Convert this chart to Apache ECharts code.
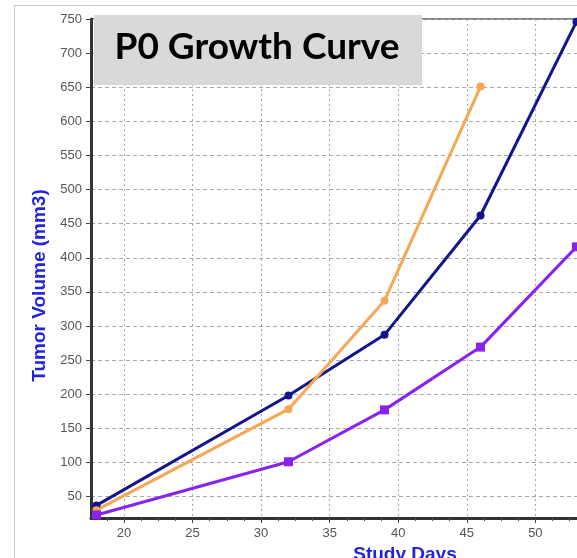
<!DOCTYPE html>
<html>
<head>
<meta charset="utf-8">
<script src="https://cdn.jsdelivr.net/npm/echarts@6/dist/echarts.min.js"></script>
<style>html,body{margin:0;padding:0;background:#fff;}#c{width:577px;height:558px;}</style>
</head>
<body>
<div id="c"></div>
<script>
var titleText = 'P0 Growth Curve';
var xTickValues = [20, 25, 30, 35, 40, 45, 50, 55, 60];
var yTickValues = [50, 100, 150, 200, 250, 300, 350, 400, 450, 500, 550, 600, 650, 700, 750];
var seriesBlue = [[18, 37], [32, 198], [39, 287], [46, 462], [53, 746]];
var seriesOrange = [[18, 30], [32, 178], [39, 337], [46, 651]];
var seriesPurple = [[18, 23], [32, 101], [39, 177], [46, 269], [53, 416]];

var minorX = [];
for (var i = 0; i < xTickValues.length; i++) {
  var b = xTickValues[i] - 5;
  for (var k = 1; k < 4; k++) minorX.push(b + k * 1.25);
}
minorX.push(60 + 1.25, 60 + 2.5);

var chart = echarts.init(document.getElementById('c'), null, {renderer: 'canvas'});
var labelStyle = {color: '#555', fontFamily: 'Liberation Sans, Arial, sans-serif', fontSize: 13};
var nameStyle = {color: '#2323dc', fontFamily: 'Liberation Sans, Arial, sans-serif', fontSize: 19, fontWeight: 'bold'};

chart.setOption({
  animation: false,
  backgroundColor: '#fff',
  title: {
    text: titleText,
    left: 252, top: 24, textAlign: 'center', z: 20,
    textStyle: {color: '#000', fontFamily: 'Lato, sans-serif', fontSize: 37, fontWeight: 'bold'}
  },
  graphic: [
    {type: 'rect', z: 0, silent: true, shape: {x: 14.5, y: 5.5, width: 800, height: 800}, style: {fill: 'none', stroke: '#c8c8c8', lineWidth: 1}},
    {type: 'rect', z: 10, silent: true, shape: {x: 94, y: 15, width: 328, height: 70}, style: {fill: '#d9d9d9'}}
  ],
  grid: {left: 91, top: 19, width: 628, height: 499, outerBoundsMode: 'none', containLabel: false, show: true, borderColor: '#555', borderWidth: 1.5, backgroundColor: 'transparent'},
  xAxis: [{
    type: 'value', min: 17.6, max: 63.39,
    name: 'Study Days', nameLocation: 'middle', nameGap: 22, nameTextStyle: nameStyle,
    axisLine: {show: true, onZero: false, lineStyle: {color: '#333', width: 3}},
    axisTick: {show: true, customValues: xTickValues, length: 5, lineStyle: {color: '#444'}},
    axisLabel: {customValues: xTickValues, margin: 9, ...labelStyle},
    splitLine: {show: true, lineStyle: {color: '#a8a8a8', type: [2, 3], width: 1}}
  }, {
    type: 'value', min: 17.6, max: 63.39, position: 'bottom',
    axisLine: {show: false},
    axisTick: {show: true, customValues: minorX, length: 3, lineStyle: {color: '#555'}},
    axisLabel: {show: false},
    splitLine: {show: false}
  }],
  yAxis: {
    type: 'value', min: 18.5, max: 750,
    name: 'Tumor Volume (mm3)', nameLocation: 'middle', nameGap: 33,
    nameTextStyle: Object.assign({}, nameStyle, {padding: [0, 34, 0, 0]}),
    axisLine: {show: true, onZero: false, lineStyle: {color: '#333', width: 3}},
    axisTick: {show: true, customValues: yTickValues, length: 5, lineStyle: {color: '#444'}},
    axisLabel: {customValues: yTickValues, margin: 9, ...labelStyle},
    splitLine: {show: true, lineStyle: {color: '#aaaaaa', type: [4, 3], width: 1}}
  },
  series: [
    {name: 'Group 1', type: 'line', data: seriesBlue, symbol: 'circle', symbolSize: 8, lineStyle: {color: '#14148c', width: 3}, itemStyle: {color: '#14148c'}},
    {name: 'Group 2', type: 'line', data: seriesOrange, symbol: 'circle', symbolSize: 8, lineStyle: {color: '#f7a754', width: 3}, itemStyle: {color: '#f7a754'}},
    {name: 'Group 3', type: 'line', data: seriesPurple, symbol: 'rect', symbolSize: 9, lineStyle: {color: '#8a22ee', width: 3}, itemStyle: {color: '#8a22ee'}}
  ]
});
</script>
</body>
</html>
